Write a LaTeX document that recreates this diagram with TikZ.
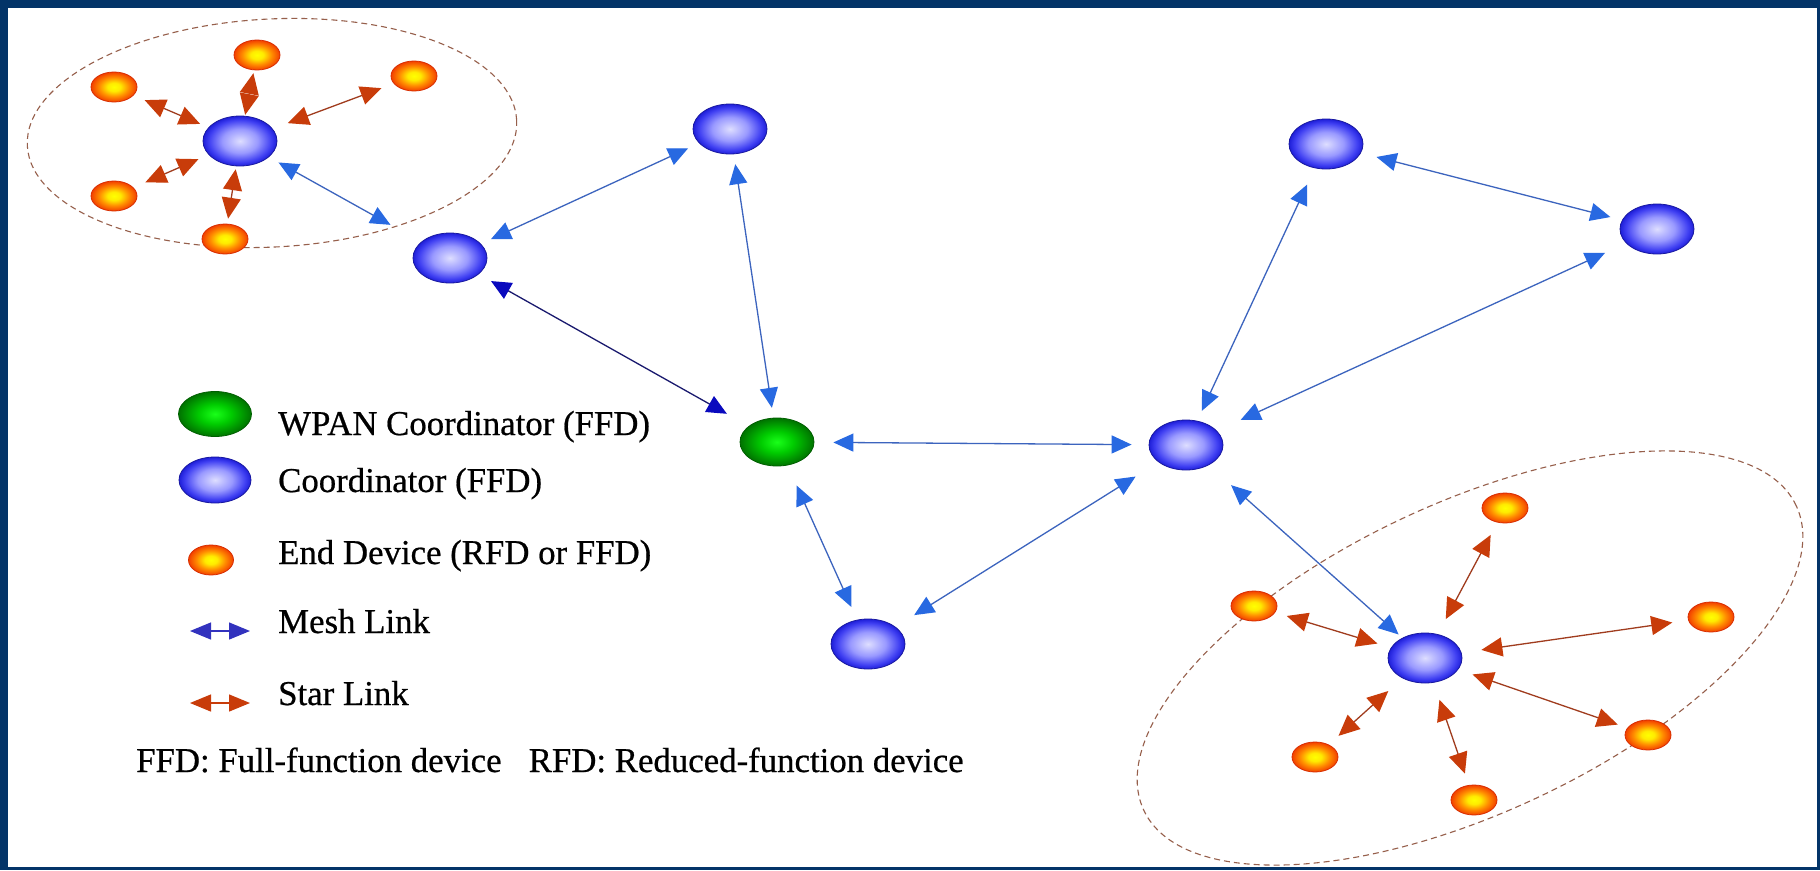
\documentclass[tikz,border=0pt]{standalone}
\usepackage{fontspec}
\setmainfont{Liberation Serif}
\newfontfamily\lblfont{Liberation Serif}[FakeBold=0.6]
\usetikzlibrary{arrows.meta,shapes.geometric}
\definecolor{navy}{RGB}{3,52,104}
\definecolor{coordedge}{RGB}{25,25,160}
\definecolor{greenedge}{RGB}{0,95,0}
\definecolor{endedge}{RGB}{215,45,0}
\definecolor{meshline}{RGB}{60,100,190}
\definecolor{meshhead}{RGB}{40,105,225}
\definecolor{darkline}{RGB}{25,25,110}
\definecolor{darkhead}{RGB}{10,10,190}
\definecolor{legmesh}{RGB}{50,50,190}
\definecolor{starline}{RGB}{160,60,30}
\definecolor{starhead}{RGB}{200,60,10}
\definecolor{clusteredge}{RGB}{150,95,75}
\pgfdeclareradialshading{coordshade}{\pgfpoint{0bp}{0bp}}{rgb(0bp)=(0.87,0.87,1); rgb(12bp)=(0.6,0.6,1); rgb(21bp)=(0.25,0.25,0.95); rgb(25bp)=(0.12,0.12,0.85); rgb(50bp)=(0.12,0.12,0.85)}
\pgfdeclareradialshading{greenshade}{\pgfpoint{0bp}{0bp}}{rgb(0bp)=(0.1,1,0.1); rgb(11bp)=(0,0.8,0); rgb(21bp)=(0,0.55,0); rgb(25bp)=(0,0.45,0); rgb(50bp)=(0,0.45,0)}
\pgfdeclareradialshading{endshade}{\pgfpoint{0bp}{0bp}}{rgb(0bp)=(1,1,0); rgb(7bp)=(1,0.92,0); rgb(16bp)=(1,0.55,0); rgb(25bp)=(0.95,0.25,0); rgb(50bp)=(0.95,0.25,0)}
\begin{document}
\begin{tikzpicture}[x=1pt,y=-1pt,
 coord/.style={ellipse, minimum width=74pt, minimum height=50pt, inner sep=0pt, draw=coordedge, line width=0.8pt, shading=coordshade},
 wpan/.style={ellipse, minimum width=74pt, minimum height=48pt, inner sep=0pt, draw=greenedge, line width=0.8pt, shading=greenshade},
 enddev/.style={ellipse, minimum width=46pt, minimum height=30pt, inner sep=0pt, draw=endedge, line width=0.8pt, shading=endshade},
 cluster/.style={ellipse, draw=clusteredge, line width=1.1pt, dash pattern=on 6pt off 4pt, inner sep=0pt},
 mesh/.style={line width=1.3pt, draw=meshline, arrows={Triangle[length=20pt,width=18pt,color=meshhead]-Triangle[length=20pt,width=18pt,color=meshhead]}},
 darkmesh/.style={line width=1.3pt, draw=darkline, arrows={Triangle[length=20pt,width=18pt,color=darkhead]-Triangle[length=20pt,width=18pt,color=darkhead]}},
 legmeshlink/.style={line width=1.3pt, draw=legmesh, arrows={Triangle[length=21pt,width=17pt,color=legmesh]-Triangle[length=21pt,width=17pt,color=legmesh]}},
 star/.style={line width=1.3pt, draw=starline, arrows={Triangle[length=21pt,width=19pt,color=starhead]-Triangle[length=21pt,width=19pt,color=starhead]}},
 legstarlink/.style={line width=1.3pt, draw=starhead, arrows={Triangle[length=21pt,width=17pt,color=starhead]-Triangle[length=21pt,width=17pt,color=starhead]}},
 lbl/.style={anchor=base west, inner sep=0pt, font=\lblfont\fontsize{34.8}{40}\selectfont},
]
\fill[navy] (0,0) rectangle (1820,870);
\fill[white] (8,8) rectangle (1817,867);
\useasboundingbox (0,0) rectangle (1820,870);

% clusters
\node[cluster, minimum width=490pt, minimum height=228pt, rotate=3] (clTL) at (272,133) {};
\node[cluster, minimum width=720pt, minimum height=310pt, rotate=25] (clBR) at (1470,658) {};

% coordinators
\node[coord, shade] (C1) at (240,141) {};
\node[coord, shade] (C2) at (450,258) {};
\node[coord, shade] (C3) at (730,129) {};
\node[wpan, shade]  (G)  at (777,442) {};
\node[coord, shade] (C4) at (868,644) {};
\node[coord, shade] (C5) at (1186,445) {};
\node[coord, shade] (C6) at (1326,144) {};
\node[coord, shade] (C7) at (1657,229) {};
\node[coord, shade] (C8) at (1425,658) {};

% end devices
\node[enddev, shade] (EA) at (114,87) {};
\node[enddev, shade] (EB) at (257,55) {};
\node[enddev, shade] (EC) at (414,76) {};
\node[enddev, shade] (ED) at (114,196) {};
\node[enddev, shade] (EE) at (225,239) {};
\node[enddev, shade] (EF) at (1254,606) {};
\node[enddev, shade] (EG) at (1505,508) {};
\node[enddev, shade] (EH) at (1711,617) {};
\node[enddev, shade] (EI) at (1648,735) {};
\node[enddev, shade] (EJ) at (1315,757) {};
\node[enddev, shade] (EK) at (1474,800) {};

% mesh links
\draw[mesh, shorten <=11pt, shorten >=35pt] (C1) -- (C2);
\draw[mesh, shorten <=11pt, shorten >=12pt] (C2) -- (C3);
\draw[darkmesh, shorten <=14pt, shorten >=25pt] (C2) -- (G);
\draw[mesh, shorten <=10pt, shorten >=10pt] (C3) -- (G);
\draw[mesh, shorten <=19pt, shorten >=17pt] (G) -- (C5);
\draw[mesh, shorten <=22pt, shorten >=14pt] (G) -- (C4);
\draw[mesh, shorten <=22pt, shorten >=27pt] (C4) -- (C5);
\draw[mesh, shorten <=11pt, shorten >=18pt] (C5) -- (C6);
\draw[mesh, shorten <=26pt, shorten >=23pt] (C5) -- (C7);
\draw[mesh, shorten <=16pt, shorten >=12pt] (C6) -- (C7);
\draw[mesh, shorten <=30pt, shorten >=5pt] (C5) -- (C8);

% star links
\draw[star, shorten <=9pt, shorten >=12pt] (C1) -- (EA);
\draw[star, shorten <=1pt, shorten >=3pt] (C1) -- (EB);
\draw[star, shorten <=16pt, shorten >=13pt] (C1) -- (EC);
\draw[star, shorten <=11pt, shorten >=13pt] (C1) -- (ED);
\draw[star, shorten <=3pt, shorten >=5pt] (C1) -- (EE);
\draw[star, shorten <=14pt, shorten >=12pt] (C8) -- (EF);
\draw[star, shorten <=17pt, shorten >=14pt] (C8) -- (EG);
\draw[star, shorten <=20pt, shorten >=16pt] (C8) -- (EH);
\draw[star, shorten <=15pt, shorten >=10pt] (C8) -- (EI);
\draw[star, shorten <=19pt, shorten >=13pt] (C8) -- (EJ);
\draw[star, shorten <=18pt, shorten >=12pt] (C8) -- (EK);

% legend
\node[wpan, shade, minimum width=73pt, minimum height=45pt] (LG) at (215,414) {};
\node[coord, shade, minimum width=72pt, minimum height=46pt] (LC) at (215,480) {};
\node[enddev, shade, minimum width=45pt, minimum height=30pt] (LE) at (211,560) {};
\coordinate (LM1) at (190,631);
\coordinate (LM2) at (250,631);
\draw[legmeshlink] (LM1) -- (LM2);
\coordinate (LS1) at (190,703);
\coordinate (LS2) at (250,703);
\draw[legstarlink] (LS1) -- (LS2);
\node[lbl] (tW) at (278,435) {WPAN Coordinator (FFD)};
\node[lbl] (tC) at (278,492) {Coordinator (FFD)};
\node[lbl] (tE) at (278,564) {End Device (RFD or FFD)};
\node[lbl] (tM) at (278,633) {Mesh Link};
\node[lbl] (tS) at (278,705) {Star Link};
\node[lbl] (tF) at (136,772) {FFD: Full-function device\hspace{0.78em}RFD: Reduced-function device};
\end{tikzpicture}
\end{document}
